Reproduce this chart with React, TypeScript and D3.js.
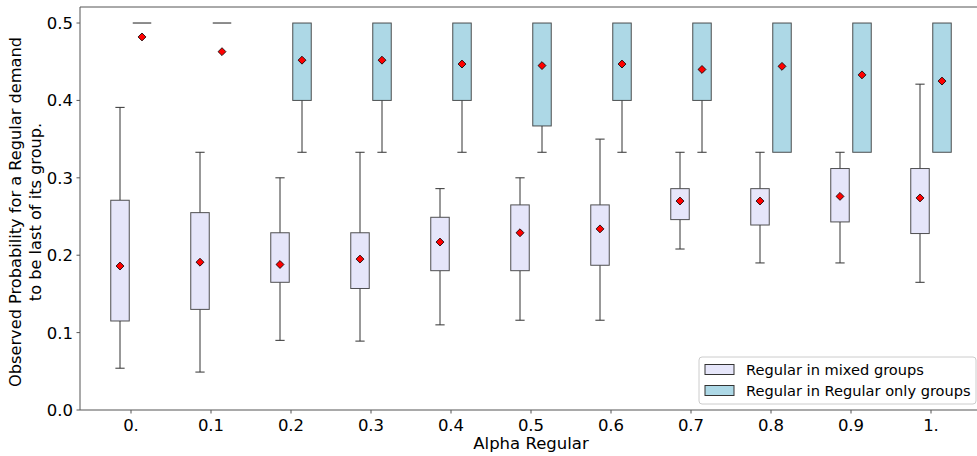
import React from "react";
import * as d3 from "d3";

const categories = ["0.", "0.1", "0.2", "0.3", "0.4", "0.5", "0.6", "0.7", "0.8", "0.9", "1."];
const mixedLow = [0.054, 0.049, 0.090, 0.089, 0.110, 0.116, 0.116, 0.208, 0.190, 0.190, 0.165];
const mixedQ1 = [0.115, 0.130, 0.165, 0.157, 0.180, 0.180, 0.187, 0.246, 0.239, 0.243, 0.228];
const mixedQ3 = [0.271, 0.255, 0.229, 0.229, 0.249, 0.265, 0.265, 0.286, 0.286, 0.312, 0.312];
const mixedHigh = [0.391, 0.333, 0.300, 0.333, 0.286, 0.300, 0.350, 0.333, 0.333, 0.333, 0.421];
const mixedMean = [0.186, 0.191, 0.188, 0.195, 0.217, 0.229, 0.234, 0.270, 0.270, 0.276, 0.274];
const regLow = [0.5, 0.5, 0.333, 0.333, 0.333, 0.333, 0.333, 0.333, 0.333, 0.333, 0.333];
const regQ1 = [0.5, 0.5, 0.4, 0.4, 0.4, 0.367, 0.4, 0.4, 0.333, 0.333, 0.333];
const regQ3 = [0.5, 0.5, 0.5, 0.5, 0.5, 0.5, 0.5, 0.5, 0.5, 0.5, 0.5];
const regHigh = [0.5, 0.5, 0.5, 0.5, 0.5, 0.5, 0.5, 0.5, 0.5, 0.5, 0.5];
const regMean = [0.482, 0.463, 0.452, 0.452, 0.447, 0.445, 0.447, 0.440, 0.444, 0.433, 0.425];
const yTicks = [0, 0.1, 0.2, 0.3, 0.4, 0.5];
const seriesNames = ["Regular in mixed groups", "Regular in Regular only groups"];
const seriesColors = ["#E6E6FA", "#ADD8E6"];

const W = 977, H = 456;
const left = 80, top = 7, bottom = 410;
const font = "DejaVu Sans, sans-serif";
const edge = "#333333";
const fs = 16.5;

export default function App() {
  const x = d3.scaleLinear().domain([0, 10]).range([131, 931]);
  const y = d3.scaleLinear().domain([0, 0.5207]).range([bottom, top]);
  const off = 11;
  const bw = 18.5;
  const series = [
    { low: mixedLow, q1: mixedQ1, q3: mixedQ3, high: mixedHigh, mean: mixedMean, dx: -off, color: seriesColors[0] },
    { low: regLow, q1: regQ1, q3: regQ3, high: regHigh, mean: regMean, dx: off, color: seriesColors[1] },
  ];
  const right = x(10) + (x(0) - left);

  return (
    <svg width={W} height={H} style={{ position: "absolute", left: 0, top: 0, background: "#fff" }}>
      {series.map((s, si) =>
        categories.map((c, i) => {
          const cx = x(i) + s.dx;
          const yq1 = y(s.q1[i]);
          const yq3 = y(s.q3[i]);
          const collapsed = yq1 - yq3 < 0.5;
          return (
            <g key={`${si}-${i}`}>
              {s.low[i] < s.q1[i] && (
                <>
                  <line x1={cx} x2={cx} y1={y(s.low[i])} y2={yq1} stroke={edge} strokeWidth={1} />
                  <line x1={cx - bw / 4} x2={cx + bw / 4} y1={y(s.low[i])} y2={y(s.low[i])} stroke={edge} strokeWidth={1} />
                </>
              )}
              {s.high[i] > s.q3[i] && (
                <>
                  <line x1={cx} x2={cx} y1={y(s.high[i])} y2={yq3} stroke={edge} strokeWidth={1} />
                  <line x1={cx - bw / 4} x2={cx + bw / 4} y1={y(s.high[i])} y2={y(s.high[i])} stroke={edge} strokeWidth={1} />
                </>
              )}
              {collapsed ? (
                <line x1={cx - bw / 2} x2={cx + bw / 2} y1={yq3} y2={yq3} stroke={edge} strokeWidth={1.5} strokeOpacity={0.75} />
              ) : (
                <rect x={cx - bw / 2} y={yq3} width={bw} height={yq1 - yq3} fill={s.color} stroke={edge} strokeWidth={1} strokeOpacity={0.85} />
              )}
              <path
                d={d3.symbol(d3.symbolDiamond2, 40)() || ""}
                transform={`translate(${cx},${y(s.mean[i])})`}
                fill="#ff0000"
                stroke="#000"
                strokeWidth={0.8}
              />
            </g>
          );
        })
      )}
      <line x1={left} x2={left} y1={top} y2={bottom} stroke="#555" strokeWidth={1} />
      <line x1={left} x2={right} y1={bottom} y2={bottom} stroke="#555" strokeWidth={1} />
      <line x1={left} x2={right} y1={top} y2={top} stroke="#555" strokeWidth={1} />
      <line x1={right} x2={right} y1={top} y2={bottom} stroke="#555" strokeWidth={1} />
      {yTicks.map((t) => (
        <g key={t}>
          <line x1={left - 3.5} x2={left} y1={y(t)} y2={y(t)} stroke="#555" />
          <text x={left - 7} y={y(t)} dy="0.36em" textAnchor="end" fontFamily={font} fontSize={fs} fill="#000">
            {t.toFixed(1)}
          </text>
        </g>
      ))}
      {categories.map((c, i) => (
        <g key={c}>
          <line x1={x(i)} x2={x(i)} y1={bottom} y2={bottom + 3.5} stroke="#555" />
          <text x={x(i)} y={431} textAnchor="middle" fontFamily={font} fontSize={fs} fill="#000">
            {c}
          </text>
        </g>
      ))}
      <text x={(left + right) / 2} y={448.5} textAnchor="middle" fontFamily={font} fontSize={fs} fill="#000">
        Alpha Regular
      </text>
      <g transform={`translate(20.5, 212) rotate(-90)`}>
        <text x={0} y={0} textAnchor="middle" fontFamily={font} fontSize={16.2} fill="#000">
          Observed Probability for a Regular demand
        </text>
        <text x={0} y={20} textAnchor="middle" fontFamily={font} fontSize={16.2} fill="#000">
          to be last of its group.
        </text>
      </g>
      <rect x={699} y={357} width={277} height={47} rx={3} fill="#fff" fillOpacity={0.8} stroke="#ccc" />
      {seriesNames.map((n, i) => (
        <g key={n}>
          <rect x={705} y={364.5 + i * 21} width={29} height={10} fill={seriesColors[i]} stroke={edge} strokeWidth={1} />
          <text x={746} y={369.5 + i * 21} dy="0.36em" fontFamily={font} fontSize={14.6} fill="#000">
            {n}
          </text>
        </g>
      ))}
    </svg>
  );
}
